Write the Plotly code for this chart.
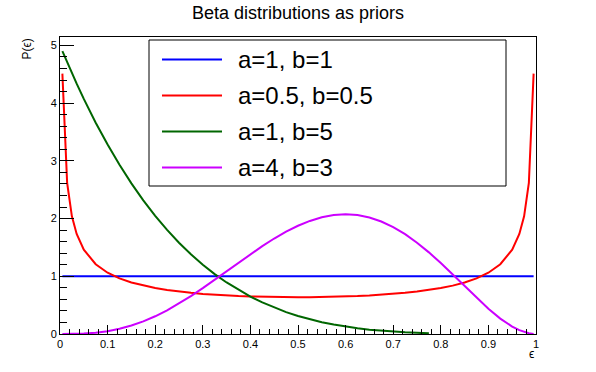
import plotly.graph_objects as go

# sample positions (epsilon)
eps = [0.005, 0.015, 0.025, 0.035, 0.05, 0.075, 0.1, 0.125, 0.15, 0.175, 0.2, 0.225,
       0.25, 0.275, 0.3, 0.325, 0.35, 0.375, 0.4, 0.425, 0.45, 0.475, 0.5, 0.525,
       0.55, 0.575, 0.6, 0.625, 0.65, 0.675, 0.7, 0.725, 0.75, 0.775, 0.8, 0.825,
       0.85, 0.875, 0.9, 0.925, 0.95, 0.965, 0.975, 0.985, 0.995]

p_a1_b1 = [1.0] * len(eps)

p_a05_b05 = [4.51, 2.619, 2.039, 1.732, 1.4605, 1.2085, 1.061, 0.9625, 0.8915, 0.8377,
             0.7958, 0.7623, 0.7351, 0.7129, 0.6946, 0.6796, 0.6674, 0.6575, 0.6497,
             0.6439, 0.6398, 0.6374, 0.6366, 0.6374, 0.6398, 0.6439, 0.6497, 0.6575,
             0.6674, 0.6796, 0.6946, 0.7129, 0.7351, 0.7623, 0.7958, 0.8377, 0.8915,
             0.9625, 1.061, 1.2085, 1.4605, 1.732, 2.039, 2.619, 4.51]

eps_green = eps[:34]
p_a1_b5 = [4.901, 4.707, 4.518, 4.336, 4.073, 3.66, 3.281, 2.931, 2.61, 2.316, 2.048,
           1.804, 1.582, 1.381, 1.2005, 1.038, 0.8925, 0.7629, 0.648, 0.5466, 0.4575,
           0.3798, 0.3125, 0.2545, 0.205, 0.1631, 0.128, 0.0989, 0.075, 0.0558, 0.0405,
           0.0286, 0.0195, 0.0128]

p_a4_b3 = [0.0, 0.0002, 0.0009, 0.0024, 0.0068, 0.0217, 0.0486, 0.0897, 0.1463, 0.2189,
           0.3072, 0.4105, 0.5273, 0.6559, 0.7938, 0.9385, 1.0869, 1.236, 1.3824, 1.5229,
           1.6539, 1.7724, 1.875, 1.9589, 2.0215, 2.0603, 2.0736, 2.0599, 2.0185, 1.9491,
           1.8522, 1.7291, 1.582, 1.4139, 1.2288, 1.0318, 0.8291, 0.6281, 0.4374, 0.2671,
           0.1286, 0.066, 0.0348, 0.0129, 0.0015]

names = ["a=1, b=1", "a=0.5, b=0.5", "a=1, b=5", "a=4, b=3"]
colors = ["#0000ff", "#ff0000", "#006600", "#cc00ff"]
xs = [eps, eps, eps_green, eps]
ys = [p_a1_b1, p_a05_b05, p_a1_b5, p_a4_b3]

x_tickvals = [0, 0.1, 0.2, 0.3, 0.4, 0.5, 0.6, 0.7, 0.8, 0.9, 1]
x_ticktext = ["0", "0.1", "0.2", "0.3", "0.4", "0.5", "0.6", "0.7", "0.8", "0.9", "1"]
y_tickvals = [0, 1, 2, 3, 4, 5]
y_ticktext = ["0", "1", "2", "3", "4", "5"]

FONT = "Liberation Sans, Arial, sans-serif"

fig = go.Figure()
for x, y, c, n in zip(xs, ys, colors, names):
    fig.add_trace(go.Scatter(x=x, y=y, mode="lines", name=n,
                             line=dict(color=c, width=2), showlegend=False))

W, H = 596, 372
ML, MR, MT, MB = 60, 60, 37, 38
PW, PH = W - ML - MR, H - MT - MB

def px(x):
    return (x - ML) / PW

def py(y):
    return (H - MB - y) / PH

# manual legend (ROOT TLegend style)
L, R, T, B = 149, 506, 40, 186
shapes = [dict(type="rect", xref="paper", yref="paper", x0=px(L), x1=px(R),
               y0=py(B), y1=py(T), line=dict(color="black", width=1),
               fillcolor="white", layer="above")]
annotations = []
rows = [59.5, 95.5, 131.5, 167.5]
for n, c, yy in zip(names, colors, rows):
    shapes.append(dict(type="line", xref="paper", yref="paper", x0=px(162), x1=px(222),
                       y0=py(yy), y1=py(yy), line=dict(color=c, width=2), layer="above"))
    annotations.append(dict(xref="paper", yref="paper", x=px(236), y=py(yy), text=n,
                            showarrow=False, xanchor="left", yanchor="middle",
                            font=dict(family=FONT, size=24, color="black")))

annotations.append(dict(xref="paper", yref="paper", x=px(298), y=py(13), text="Beta distributions as priors",
                        showarrow=False, xanchor="center", yanchor="middle",
                        font=dict(family=FONT, size=18, color="black")))
annotations.append(dict(xref="paper", yref="paper", x=px(26), y=py(37), text="P(\u03f5)",
                        showarrow=False, xanchor="center", yanchor="top", textangle=-90,
                        font=dict(family=FONT, size=12, color="black")))
annotations.append(dict(xref="paper", yref="paper", x=px(536), y=py(354), text="\u03f5",
                        showarrow=False, xanchor="right", yanchor="middle",
                        font=dict(family=FONT, size=12, color="black")))

fig.update_layout(
    width=W, height=H,
    margin=dict(l=ML, r=MR, t=MT, b=MB, pad=0),
    paper_bgcolor="white", plot_bgcolor="white",
    font=dict(family=FONT, size=11, color="black"),
    shapes=shapes, annotations=annotations,
    xaxis=dict(range=[0, 1], showgrid=False, zeroline=False, showline=True, mirror=True,
               linecolor="black", linewidth=1, ticks="inside", ticklen=9, tickcolor="black",
               tickmode="array", tickvals=x_tickvals, ticktext=x_ticktext, tickangle=0,
               automargin=False,
               minor=dict(ticks="inside", ticklen=5, dtick=0.02, tick0=0, tickcolor="black", showgrid=False),
               tickfont=dict(family=FONT, size=11)),
    yaxis=dict(range=[0, 5.145], showgrid=False, zeroline=False, showline=True, mirror=True,
               linecolor="black", linewidth=1, ticks="inside", ticklen=14, tickcolor="black",
               tickmode="array", tickvals=y_tickvals, ticktext=y_ticktext, automargin=False,
               minor=dict(ticks="inside", ticklen=7, dtick=0.2, tick0=0, tickcolor="black", showgrid=False),
               tickfont=dict(family=FONT, size=11)),
)

# remove the browser's default 8px body margin so the figure fills the window exactly
fig.write_html("out.html", config={"displayModeBar": False},
               post_script="document.body.style.margin='0';document.body.style.overflow='hidden';")
